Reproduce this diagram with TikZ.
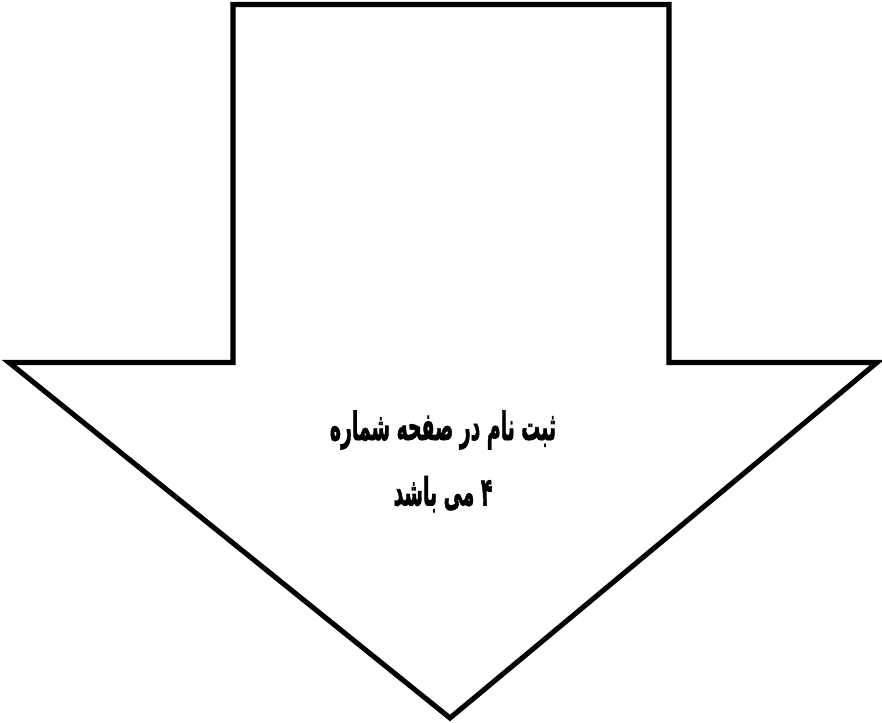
\documentclass[tikz,border=0pt]{standalone}
\usepackage{fontspec}
\usepackage{tikz}
\usetikzlibrary{calc,positioning}
\newfontfamily\persianfont[Script=Arabic,BoldFeatures={FakeBold=2}]{DejaVu Sans}
\TeXXeTstate=1

\begin{document}
\begin{tikzpicture}[x=0.02cm,y=-0.02cm]
		\useasboundingbox (0,0) rectangle (882,723);
		% 向下的箭头
		\coordinate (TL) at (233,4.5);
		\coordinate (TR) at (669,4.5);
		\coordinate (SR) at (669,362.5);
		\coordinate (WR) at (877,362.5);
		\coordinate (Tip) at (450,718);
		\coordinate (WL) at (9,362.5);
		\coordinate (SL) at (233,362.5);
		\draw[line width=2.9pt,line join=miter,fill=white] (TL)--(TR)--(SR)--(WR)--(Tip)--(WL)--(SL)--cycle;
		% 文字
		\node[font=\persianfont\bfseries\fontsize{17}{20}\selectfont,xscale=0.63,yscale=1.3] (L1) at (443,430) {\beginR ثبت نام در صفحه شماره\endR};
		\node[font=\persianfont\bfseries\fontsize{17}{20}\selectfont,xscale=0.63,yscale=1.3] (L2) at (443,494) {\beginR ۴ می باشد\endR};
\end{tikzpicture}
\end{document}
